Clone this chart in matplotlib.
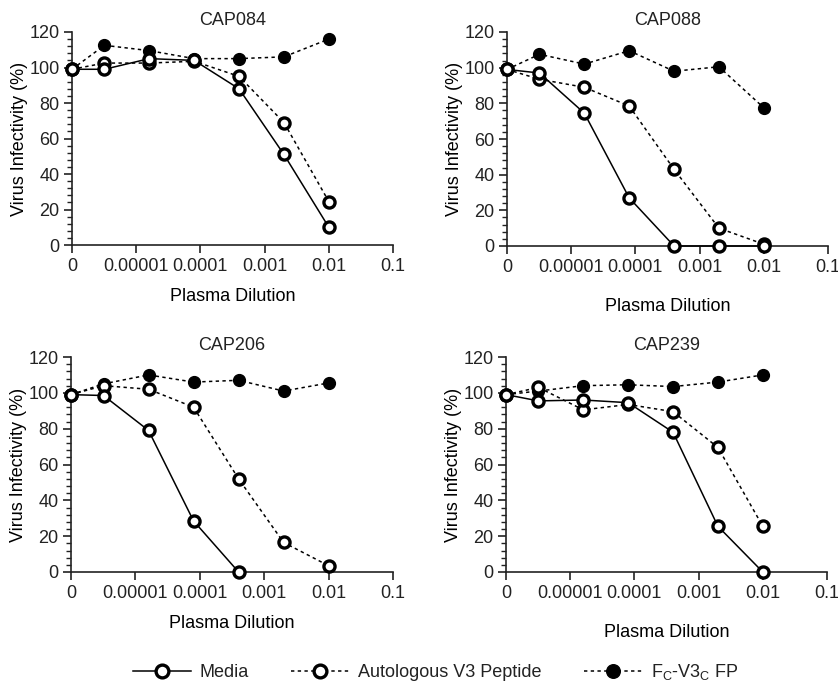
import matplotlib.pyplot as plt
import numpy as np
from matplotlib.ticker import FixedLocator, FixedFormatter, AutoMinorLocator
from matplotlib.lines import Line2D

plt.rcParams['font.family'] = ['Liberation Sans', 'DejaVu Sans']
plt.rcParams['mathtext.fontset'] = 'custom'
plt.rcParams['mathtext.rm'] = 'Liberation Sans'
plt.rcParams['text.color'] = '#222222'

# plasma dilutions (0 = no plasma, drawn at the left end of the log axis)
dilution = [0, 3.2e-6, 1.6e-5, 8e-5, 4e-4, 2e-3, 1e-2]
tick_vals = [1e-6, 1e-5, 1e-4, 1e-3, 1e-2, 1e-1]
tick_labels = ['0', '0.00001', '0.0001', '0.001', '0.01', '0.1']

titles = ['CAP084', 'CAP088', 'CAP206', 'CAP239']

media = [
    [99, 99, 105, 104, 88, 51, 10],
    [99, 97, 74.5, 27, 0, 0, 0],
    [99, 98.5, 79, 28.5, 0, None, None],
    [99, 95.5, 96, 94.5, 78, 25.5, 0],
]
autologous = [
    [99, 102.5, 102.5, 103.5, 95, 69, 24.5],
    [99, 93.5, 89, 78.5, 43, 10, 1],
    [99, 104, 102, 92, 52, 16.5, 3.5],
    [99, 103, 90.5, 93.5, 89.5, 69.5, 25.5],
]
fc_v3 = [
    [99, 112.5, 109.5, 105, 105, 106, 116],
    [99, 107.5, 102, 109.5, 98, 100.5, 77.5],
    [99, 105, 110, 106, 107, 101, 105.5],
    [99, 101, 104, 104.5, 103.5, 106, 110],
]

xs = np.array([d if d > 0 else 1e-6 for d in dilution])

fig = plt.figure(figsize=(8.38, 6.86), dpi=100)
# axes boxes in pixels: left, top, width, height
boxes = [(72, 32, 321, 213), (507, 32, 321, 214), (71, 357, 322, 215), (506, 357, 321, 215)]
W, H = 838, 686

dash = (0, (2.2, 2.2))
open_kw = dict(marker='o', markersize=8, markerfacecolor='white', markeredgecolor='black',
               markeredgewidth=2.4, color='black')
fill_kw = dict(marker='o', markersize=8.5, markerfacecolor='black', markeredgecolor='black',
               color='black')

for i, (l, t, w, h) in enumerate(boxes):
    ax = fig.add_axes([l / W, 1 - (t + h) / H, w / W, h / H])
    ax.set_xscale('log')
    ax.set_xlim(1e-6, 1e-1)
    ax.set_ylim(0, 120)

    m = np.array([np.nan if v is None else v for v in media[i]], dtype=float)
    ax.plot(xs, fc_v3[i], linestyle=dash, linewidth=1.1, clip_on=False, zorder=3, **fill_kw)
    ax.plot(xs, autologous[i], linestyle=dash, linewidth=1.1, clip_on=False, zorder=4, **open_kw)
    ax.plot(xs, m, linestyle='-', linewidth=1.1, clip_on=False, zorder=5, **open_kw)

    ax.xaxis.set_major_locator(FixedLocator(tick_vals))
    ax.xaxis.set_major_formatter(FixedFormatter(tick_labels))
    ax.xaxis.set_minor_locator(FixedLocator([]))
    ax.set_yticks(range(0, 121, 20))
    ax.yaxis.set_minor_locator(AutoMinorLocator(5))

    for s in ['top', 'right']:
        ax.spines[s].set_visible(False)
    for s in ['left', 'bottom']:
        ax.spines[s].set_linewidth(1.2)
        ax.spines[s].set_color('#222222')
    ax.tick_params(axis='both', which='major', direction='out', length=6, width=1.2,
                   labelsize=13, color='#222222', labelcolor='#222222', pad=3)
    ax.tick_params(axis='y', which='minor', direction='out', length=3.5, width=1.0,
                   color='#222222')

    ax.set_title(titles[i], fontsize=13, pad=5)
    ax.set_ylabel('Virus Infectivity (%)', fontsize=13, labelpad=1)
    ax.set_xlabel('Plasma Dilution', fontsize=13, labelpad=10 if i % 2 == 0 else 16)

handles = [
    Line2D([], [], linestyle='-', linewidth=1.1, **open_kw),
    Line2D([], [], linestyle=dash, linewidth=1.1, **open_kw),
    Line2D([], [], linestyle=dash, linewidth=1.1, **fill_kw),
]
labels = ['Media', 'Autologous V3 Peptide', r'F$_\mathrm{C}$-V3$_\mathrm{C}$ FP']
fig.legend(handles, labels, loc='center left', bbox_to_anchor=(133 / W, 1 - 672 / H), ncol=3,
           frameon=False, fontsize=13, handlelength=3.2, columnspacing=2.35, handletextpad=0.5,
           borderpad=0, borderaxespad=0, markerscale=1.15)

fig.savefig('out.png', dpi=100)
